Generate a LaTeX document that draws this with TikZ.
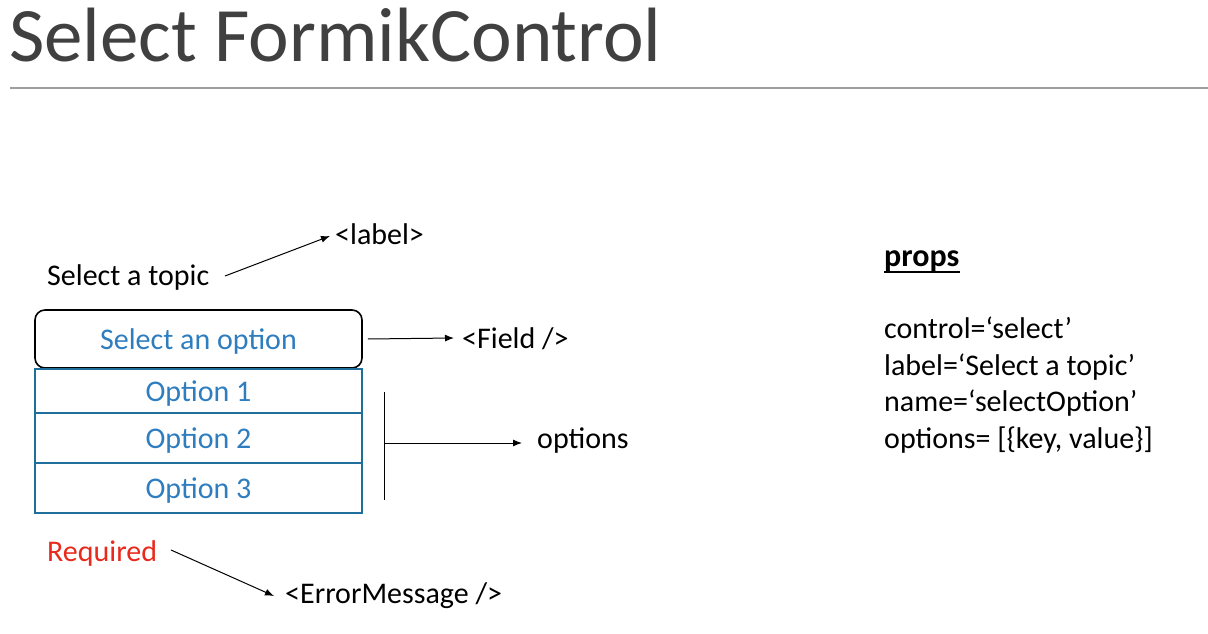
\documentclass[tikz,border=0pt]{standalone}
\usepackage{fontspec}
\setmainfont{Carlito}
\usetikzlibrary{arrows.meta}
\definecolor{titlegray}{HTML}{404040}
\definecolor{rulegray}{HTML}{9E9E9E}
\definecolor{optblue}{HTML}{2E7DBF}
\definecolor{boxblue}{HTML}{1F6E9C}
\definecolor{reqred}{HTML}{E8291C}
\tikzset{
  txt/.style={anchor=base west, inner sep=0pt, font=\fontsize{30}{36}\selectfont, text=black},
  conn/.style={draw=black, line width=1pt, -{Latex[length=9pt,width=7pt]}},
  optbox/.style={draw=boxblue, line width=2pt, minimum width=327pt, inner sep=0pt, text=optblue, text depth=0pt, font=\fontsize{30}{36}\selectfont},
}
\begin{document}
\begin{tikzpicture}[x=1pt,y=-1pt]
\useasboundingbox (0,0) rectangle (1208,634);
% title
\node[anchor=base west, inner sep=0pt, text=titlegray, font=\fontsize{77}{80}\selectfont] (title) at (9,62) {Select FormikControl};
\coordinate (r1) at (10,88);
\coordinate (r2) at (1208,88);
\draw[rulegray, line width=1.2pt] (r1) -- (r2);
% label
\node[txt] (topic) at (47,285) {Select a topic};
\node[txt] (lbl) at (335,244) {<label>};
\coordinate (a1s) at (225,276);
\coordinate (a1e) at (330,236);
\draw[conn] (a1s) -- (a1e);
% field
\node[draw=black, line width=1.6pt, rounded corners=10pt, minimum width=327pt, minimum height=58pt, inner sep=0pt, text=optblue, text depth=0pt, font=\fontsize{30}{36}\selectfont] (field) at (198.5,339) {Select an option};
\node[txt] (fieldlbl) at (462,348) {<Field />};
\coordinate (a2e) at (454,338);
\path (field.east) ++(5,0) coordinate (a2s);
\draw[conn] (a2s) -- (a2e);
% options
\node[optbox, minimum height=44pt] (o1) at (198.5,391) {Option 1};
\node[optbox, minimum height=50pt] (o2) at (198.5,438) {Option 2};
\node[optbox, minimum height=50pt] (o3) at (198.5,488) {Option 3};
\coordinate (vt) at (384,392);
\coordinate (vb) at (384,500);
\coordinate (vm) at (384,443);
\coordinate (a3e) at (522,443);
\draw[black, line width=1pt] (vt) -- (vb);
\draw[conn] (vm) -- (a3e);
\node[txt] (optlbl) at (537,448) {options};
% error
\node[txt, text=reqred] (req) at (47,561) {Required};
\node[txt] (err) at (285,603) {<ErrorMessage />};
\coordinate (a4s) at (171,550);
\coordinate (a4e) at (274,596);
\draw[conn] (a4s) -- (a4e);
% props
\node[txt, font=\fontsize{32}{36}\selectfont\bfseries] (props) at (884,266) {props};
\draw[black, line width=1.5pt] ([yshift=-6pt]props.base west) -- ([yshift=-6pt]props.base east);
\node[txt] (p1) at (884,338) {control=‘select’};
\node[txt] (p2) at (884,375) {label=‘Select a topic’};
\node[txt] (p3) at (884,411) {name=‘selectOption’};
\node[txt] (p4) at (884,448) {options= [\{key, value\}]};
\end{tikzpicture}
\end{document}
